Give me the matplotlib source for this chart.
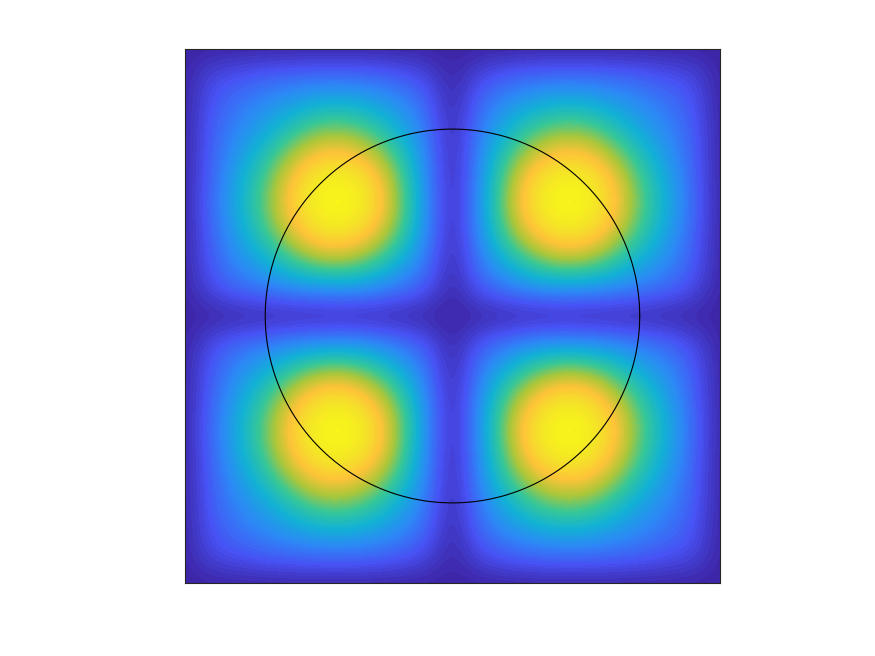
import numpy as np
import matplotlib
matplotlib.use("Agg")
import matplotlib.pyplot as plt
from matplotlib.colors import LinearSegmentedColormap

quad_x = [-1.0, -0.9, -0.8, -0.7, -0.6, -0.5, -0.4, -0.3, -0.2, -0.1, 0.0]
quad_y = [1.0, 0.9, 0.8, 0.7, 0.6, 0.5, 0.4, 0.3, 0.2, 0.1, 0.0]
row_y10 = [0, 0, 0, 0, 0, 0, 0, 0, 0, 0, 0]
row_y09 = [0, 0.10, 0.13, 0.16, 0.18, 0.19, 0.19, 0.18, 0.15, 0.10, 0]
row_y08 = [0, 0.14, 0.21, 0.27, 0.32, 0.37, 0.38, 0.34, 0.28, 0.18, 0]
row_y07 = [0, 0.16, 0.26, 0.34, 0.46, 0.56, 0.57, 0.50, 0.37, 0.23, 0]
row_y06 = [0, 0.17, 0.31, 0.45, 0.63, 0.78, 0.79, 0.68, 0.49, 0.26, 0]
row_y05 = [0, 0.18, 0.36, 0.53, 0.77, 0.94, 0.96, 0.84, 0.57, 0.28, 0]
row_y04 = [0, 0.19, 0.37, 0.55, 0.79, 0.96, 0.99, 0.86, 0.59, 0.29, 0]
row_y03 = [0, 0.17, 0.33, 0.48, 0.68, 0.84, 0.86, 0.73, 0.52, 0.27, 0]
row_y02 = [0, 0.155, 0.27, 0.36, 0.48, 0.58, 0.59, 0.51, 0.37, 0.22, 0]
row_y01 = [0, 0.11, 0.18, 0.22, 0.26, 0.28, 0.29, 0.27, 0.21, 0.14, 0]
row_y00 = [0, 0, 0, 0, 0, 0, 0, 0, 0, 0, 0]

circle_r = 0.7

# parula (9 key colours)
parula_keys = [
    (0.2422, 0.1504, 0.6603),
    (0.2810, 0.3228, 0.9579),
    (0.1786, 0.5289, 0.9682),
    (0.0689, 0.6948, 0.8394),
    (0.2161, 0.7843, 0.5923),
    (0.6720, 0.7793, 0.2227),
    (0.9970, 0.7659, 0.2199),
    (0.9606, 0.8953, 0.1561),
    (0.9769, 0.9839, 0.0805),
]
parula = LinearSegmentedColormap.from_list("parula", parula_keys, N=64)

quad = np.array([row_y10, row_y09, row_y08, row_y07, row_y06, row_y05,
                 row_y04, row_y03, row_y02, row_y01, row_y00])
# top half (y from 1 to 0) = quadrant + its mirror; the bottom half mirrors the top
top = np.hstack([quad, quad[:, -2::-1]])
Z = np.vstack([top, top[-2::-1, :]])[::-1]  # rows now from y=-1 to y=1

h = quad_x[1] - quad_x[0]
fig = plt.figure(figsize=(8.75, 6.56), dpi=100)
ax = fig.add_axes([0.2114, 0.1113, 0.6114, 0.814])
ax.imshow(Z, extent=[-1 - h / 2, 1 + h / 2, -1 - h / 2, 1 + h / 2], origin="lower",
          cmap=parula, vmin=0, vmax=1, interpolation="bicubic",
          interpolation_stage="data", aspect="auto")

t = np.linspace(0, 2 * np.pi, 400)
ax.plot(circle_r * np.cos(t), circle_r * np.sin(t), color="black", lw=0.8)

ax.set_xlim(-1, 1)
ax.set_ylim(-1, 1)
ax.set_xticks([])
ax.set_yticks([])
for s in ax.spines.values():
    s.set_color("#262626")
    s.set_linewidth(0.8)

fig.savefig("out.png", dpi=100)
